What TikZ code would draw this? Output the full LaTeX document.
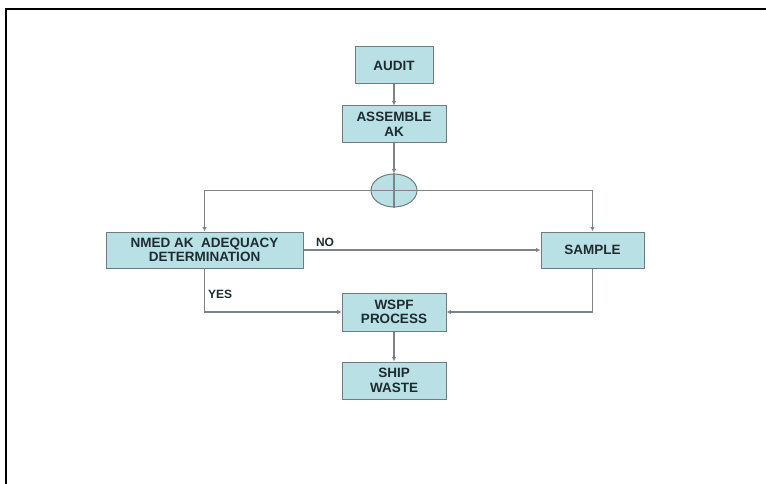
\documentclass[tikz,border=0pt]{standalone}
\usepackage{fontspec}
\setmainfont{Liberation Sans}
\usepackage{xcolor}
\usetikzlibrary{arrows.meta,shapes.geometric}

\definecolor{boxfill}{HTML}{B9E1E5}
\definecolor{boxline}{HTML}{6E7C80}
\definecolor{lnk}{HTML}{7F8385}
\definecolor{ink}{HTML}{1E2B30}

\begin{document}
\begin{tikzpicture}[x=1pt,y=-1pt,
    box/.style={draw=boxline,line width=1pt,fill=boxfill,text=ink,inner sep=0pt,
        align=center,font=\fontsize{13.5}{14.5}\selectfont\bfseries},
    conn/.style={draw=lnk,line width=1.3pt},
    arr/.style={conn,-{Latex[length=4.5pt,width=4.5pt]}},
    lbl/.style={text=ink,inner sep=0pt,font=\fontsize{12}{13}\selectfont\bfseries}]
    \useasboundingbox (0,0) rectangle (766,484);
    % frame
    \draw[line width=2.2pt] (6,484) -- (6,9.2) -- (766,9.2);
    % boxes
    \node[box,minimum width=78pt,minimum height=37pt] (audit) at (394,65.5) {AUDIT};
    \node[box,minimum width=104pt,minimum height=37pt] (assemble) at (394,124.5) {ASSEMBLE\\AK};
    \node[draw=boxline,line width=1pt,fill=boxfill,ellipse,inner sep=0pt,
        minimum width=46pt,minimum height=33pt] (join) at (394,190.5) {};
    \node[box,minimum width=197pt,minimum height=36pt] (nmed) at (204.5,250) {NMED AK\ \ ADEQUACY\\DETERMINATION};
    \node[box,minimum width=103pt,minimum height=36pt] (sample) at (592.5,250) {SAMPLE};
    \node[box,minimum width=104pt,minimum height=38pt] (wspf) at (394,312) {WSPF\\PROCESS};
    \node[box,minimum width=104pt,minimum height=37pt] (ship) at (394,380.5) {SHIP\\WASTE};
    % connectors
    \draw[arr] (audit) -- (assemble);
    \draw[arr] (assemble) -- (join.north);
    \draw[conn] (join.north) -- (join.south);
    \draw[conn] (join.west) -- (join.east);
    \draw[arr] (join.west) -| (nmed.north);
    \draw[arr] (join.east) -| (sample.north);
    \draw[arr] (nmed.east) -- node[lbl,pos=0.05,anchor=south west,yshift=3pt] (no) {NO} (sample.west);
    \draw[arr] (nmed.south) |- node[lbl,pos=0.3,anchor=west,xshift=3pt] (yes) {YES} (wspf.west);
    \draw[arr] (sample.south) |- (wspf.east);
    \draw[arr] (wspf) -- (ship);
\end{tikzpicture}
\end{document}
